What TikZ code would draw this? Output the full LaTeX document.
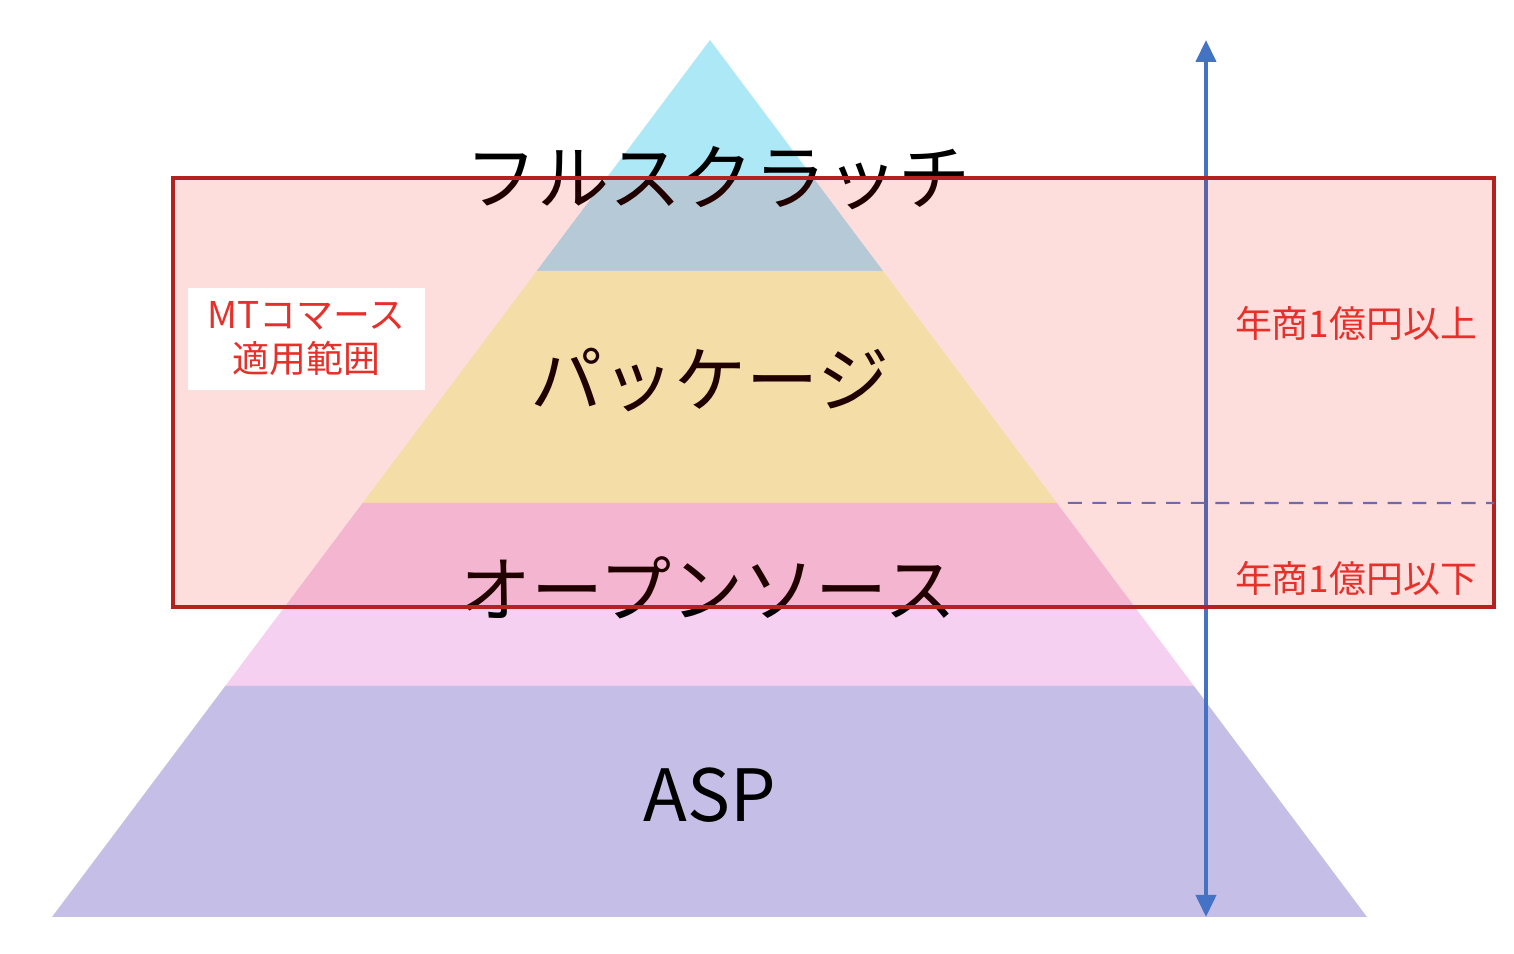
\documentclass[tikz,border=0pt]{standalone}
\usepackage{fontspec}
\setmainfont{Noto Sans CJK JP}
\usepackage{tikz}
\usetikzlibrary{calc,arrows.meta}

\definecolor{topcol}{RGB}{173,232,247}
\definecolor{pkgcol}{RGB}{246,254,194}
\definecolor{osscol}{RGB}{245,208,240}
\definecolor{aspcol}{RGB}{197,190,230}
\definecolor{zonecol}{RGB}{240,10,0}
\definecolor{zoneedge}{RGB}{178,34,30}
\definecolor{axiscol}{RGB}{68,114,196}
\definecolor{labred}{RGB}{232,48,42}
\definecolor{splitcol}{RGB}{112,106,170}

\begin{document}
\begin{tikzpicture}[x=1cm,y=1cm,
  bigtext/.style={font=\fontsize{20.5pt}{24pt}\selectfont,text=black},
  smalltext/.style={font=\fontsize{10.5pt}{12.5pt}\selectfont,text=labred,align=center}]
			\useasboundingbox (0,0) rectangle (15.14,9.54);
			
			\coordinate (A) at (7.10,9.14);
			\coordinate (L) at (0.52,0.37);
			\coordinate (R) at (13.67,0.37);
			
			\coordinate (L1) at ($(A)!0.2634!(L)$);
			\coordinate (R1) at ($(A)!0.2634!(R)$);
			\coordinate (L2) at ($(A)!0.5279!(L)$);
			\coordinate (R2) at ($(A)!0.5279!(R)$);
			\coordinate (L3) at ($(A)!0.7366!(L)$);
			\coordinate (R3) at ($(A)!0.7366!(R)$);
			
			% pyramid layers
			\fill[topcol] (A)--(R1)--(L1)--cycle;
			\fill[pkgcol] (L1)--(R1)--(R2)--(L2)--cycle;
			\fill[osscol] (L2)--(R2)--(R3)--(L3)--cycle;
			\fill[aspcol] (L3)--(R3)--(R)--(L)--cycle;
			
			\node[bigtext] (full) at (7.18,7.76) {フルスクラッチ};
			\node[bigtext] (pkg) at (7.10,5.74) {パッケージ};
			\node[bigtext] (oss) at (7.08,3.66) {オープンソース};
			\node[bigtext] (asp) at (7.10,1.59) {ASP};
			
			% scale axis
			\coordinate (axtop) at (12.06,9.14);
			\coordinate (axbot) at (12.06,0.37);
			\draw[axiscol,line width=1.15pt,{Triangle[width=0.2cm,length=0.22cm]}-{Triangle[width=0.2cm,length=0.22cm]}] (axtop)--(axbot);
			
			% MT commerce range
			\fill[zonecol,fill opacity=0.135] (1.73,3.47) rectangle (14.94,7.76);
			\draw[zoneedge,line width=1.2pt] (1.73,3.47) rectangle (14.94,7.76);
			
			\coordinate (split) at (14.94,4.51);
			\draw[splitcol,line width=0.6pt,dash pattern=on 4pt off 3pt] ($(R2)+(0.11,0)$)--(split);
			
			\fill[white] (1.88,5.64) rectangle (4.25,6.66);
			\node[smalltext] (mt) at (3.065,6.15) {MTコマース\\適用範囲};
			
			\node[smalltext] (upper) at (13.56,6.31) {年商1億円以上};
			\node[smalltext] (lower) at (13.56,3.76) {年商1億円以下};
		\end{tikzpicture}
\end{document}
